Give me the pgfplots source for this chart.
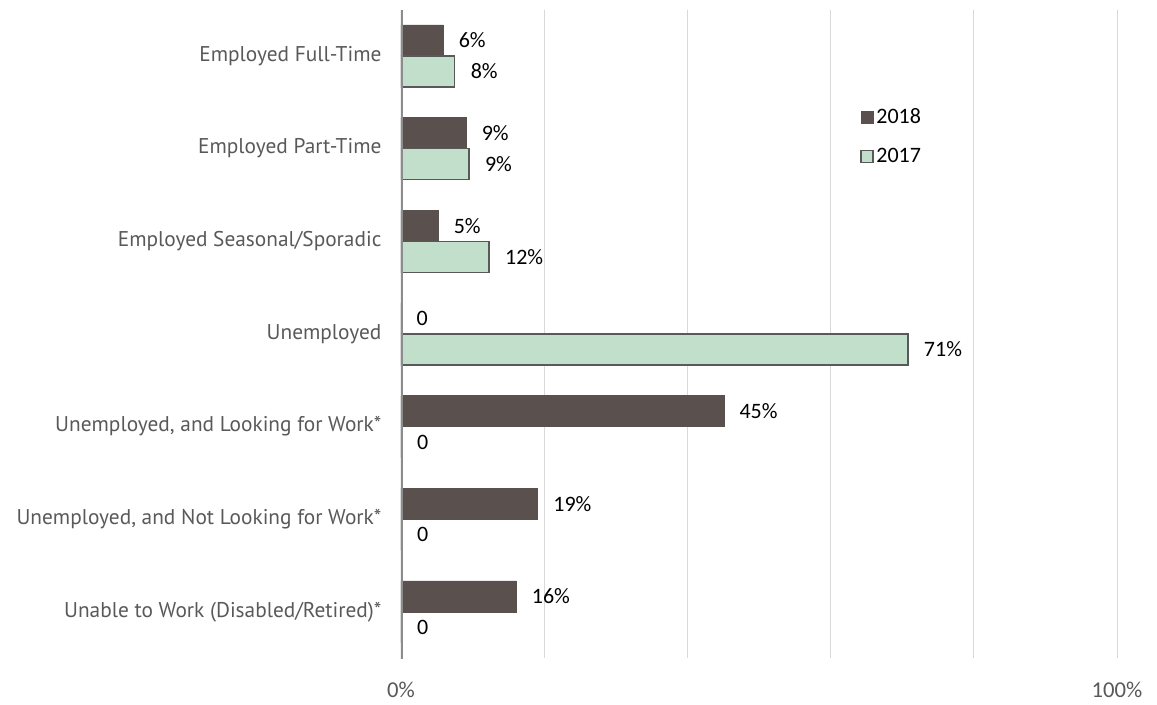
\documentclass[border=0pt]{standalone}
\usepackage{pgfplots}
\pgfplotsset{compat=1.18}
\usepackage{fontspec}
\setmainfont{PT Sans}
\newfontfamily\carlito{Carlito}
\usetikzlibrary{calc}
\definecolor{c2018}{HTML}{5A504E}
\definecolor{c2017}{HTML}{C1DFCB}
\definecolor{cbord}{HTML}{595959}
\definecolor{ctext}{HTML}{595959}
\definecolor{cgrid}{HTML}{D9D9D9}
\definecolor{caxis}{HTML}{8C8C8C}

\begin{document}
\begin{tikzpicture}
\begin{axis}[
  xbar, scale only axis,
  width=537pt, height=486.5pt,
  bar width=23.25pt,
  xmin=0, xmax=100, ymin=-0.5, ymax=6.5, y dir=reverse,
  axis line style={draw=none},
  major tick length=0pt,
  xtick={0,20,40,60,80,100}, xticklabels={0\%,,,,,100\%},
  xmajorgrids, grid style={draw=cgrid, line width=0.7pt},
  x tick label style={font=\carlito\fontsize{17}{20}\selectfont, text=ctext, yshift=-14pt},
  ytick={0,...,6},
  yticklabels={Employed Full-Time, Employed Part-Time, Employed Seasonal/Sporadic, Unemployed,
    {Unemployed, and Looking for Work*}, {Unemployed, and Not Looking for Work*}, Unable to Work (Disabled/Retired)*},
  y tick label style={font=\fontsize{16}{19}\selectfont, text=ctext, inner sep=0pt, xshift=-14.5pt},
  point meta=explicit symbolic,
  nodes near coords,
  nodes near coords style={font=\carlito\fontsize{16.5}{19}\selectfont, text=black, anchor=west, inner sep=0pt, xshift=11.5pt},
  legend style={at={(0.641,0.852)}, anchor=north west, draw=none, fill=none,
    font=\carlito\fontsize{16.5}{19}\selectfont, row sep=13pt, inner sep=0pt},
  legend cell align=left,
  legend image code/.code={\draw[#1] (0pt,-4.5pt) rectangle (9pt,4.5pt);},
]
\addplot[fill=c2018, draw=c2018, bar shift=11.625pt] coordinates {
  (5.9,0) [6\%] (9.1,1) [9\%] (5.2,2) [5\%] (0,3) [0]
  (45.1,4) [45\%] (19.1,5) [19\%] (16.1,6) [16\%]};
\addplot[fill=c2017, draw=cbord, line width=1.1pt, bar shift=-11.625pt] coordinates {
  (7.5,0) [8\%] (9.5,1) [9\%] (12.3,2) [12\%] (70.8,3) [71\%]
  (0,4) [0] (0,5) [0] (0,6) [0]};
\legend{2018, 2017}
\draw[caxis, line width=2.3pt] (axis cs:0,-0.5) -- (axis cs:0,6.55);
\coordinate (o) at (axis cs:0,6.5);
\end{axis}
\path ($(o)+(-300.75pt,-34.3pt)$) rectangle ++(867.75pt,528pt);
\end{tikzpicture}
\end{document}
